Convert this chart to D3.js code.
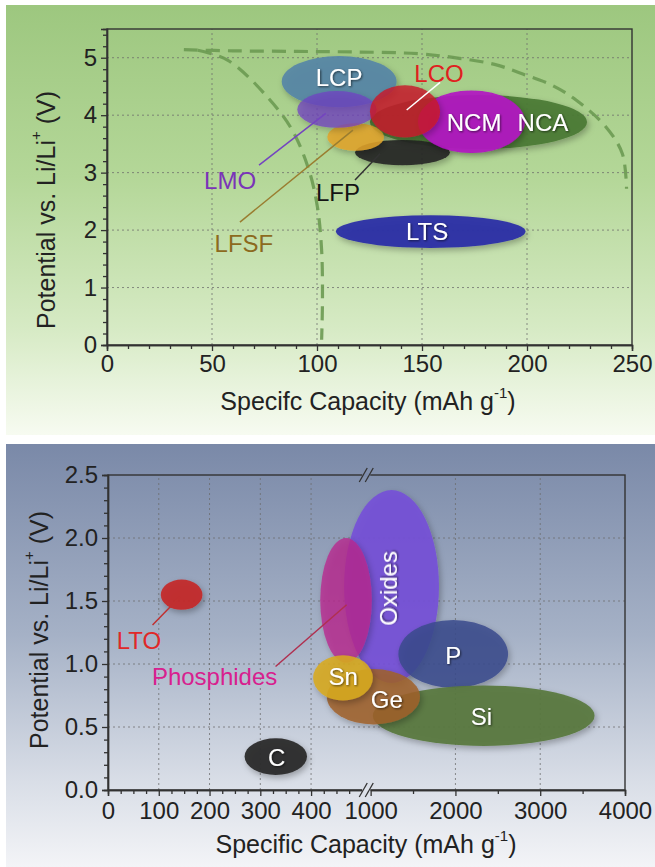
<!DOCTYPE html>
<html><head><meta charset="utf-8">
<script src="https://cdn.jsdelivr.net/npm/d3@7"></script>
<style>
body{margin:0;background:#fff}
svg{display:block}
text{font-family:"Liberation Sans",Arial,Helvetica,sans-serif}
</style>
</head><body>
<script>
// ---------------- DATA ----------------
// Top chart: cathode materials (extent of each region, data units)
const cathodeNames = ["NCA","LFP","LFSF","NCM","LCP","LMO","LCO","LTS"];
const cathodeXMin  = [125.2,118.1,104.9,148.1, 83.2, 90.6,125.2,109.0];
const cathodeXMax  = [228.6,163.3,131.9,199.0,137.9,128.4,158.6,199.3];
const cathodeYMin  = [3.41, 3.13, 3.38, 3.34, 4.14, 3.78, 3.61, 1.69];
const cathodeYMax  = [4.35, 3.57, 3.86, 4.43, 5.03, 4.42, 4.52, 2.26];

// Labels for top chart (data units)
const cathodeLabelNames = ["LCP","LCO","NCM","NCA","LTS","LMO","LFP","LFSF"];
const cathodeLabelX     = [110.5,158.1,174.8,207.6,152.4, 58.6,110.0, 65.2];
const cathodeLabelY     = [4.66, 4.73, 3.88, 3.88, 1.97, 2.87, 2.66, 1.76];
// Leader lines (from label to region)
const cathodeLeaderNames = ["LCO","LMO","LFP","LFSF"];
const cathodeLeaderX1 = [158.6, 72.4,118.1, 63.3];
const cathodeLeaderY1 = [4.57, 3.13, 2.87, 2.14];
const cathodeLeaderX2 = [142.7,104.2,130.0,117.1];
const cathodeLeaderY2 = [4.09, 4.03, 3.33, 3.74];

// Dashed guide curves (top chart)
const innerCurveX = [43.3, 57.4, 76.3, 88.2, 96.2, 100.2, 102.2, 102.6, 102.2];
const innerCurveY = [5.13, 4.96, 4.32, 3.74, 3.04, 2.40, 1.65, 0.78, 0.09];
const outerCurveX = [36.6, 60, 90, 118.2, 148, 167.8, 185, 197.7, 212, 223.5, 237.5, 245.4, 247.4];
const outerCurveY = [5.14, 5.12, 5.11, 5.10, 5.07, 4.99, 4.88, 4.72, 4.52, 4.26, 3.80, 3.33, 2.72];

// Top axes ticks
const topXTicks = [0, 50, 100, 150, 200, 250];
const topYTicks = [0, 1, 2, 3, 4, 5];

// Bottom chart: anode materials
const anodeNames = ["Oxides","Phosphides","P","Si","Ge","Sn","LTO","C"];
const anodeXMin  = [465, 418, 1327, 1026,  431,  404, 104, 269];
const anodeXMax  = [1806,1014,2621, 3641, 1582, 1026, 186, 392];
const anodeYMin  = [0.85, 1.01, 0.81, 0.35, 0.52, 0.71, 1.43, 0.12];
const anodeYMax  = [2.38, 2.00, 1.35, 0.83, 0.96, 1.07, 1.67, 0.41];

const anodeLabelNames = ["Oxides","P","Sn","Ge","Si","C","LTO","Phosphides"];
const anodeLabelX     = [1209, 1974, 463, 1191, 2308, 332, 61, 210];
const anodeLabelY     = [1.60, 1.07, 0.90, 0.72, 0.58, 0.254, 1.19, 0.90];
const anodeLeaderNames = ["LTO","Phosphides"];
const anodeLeaderX1 = [87.7, 330];
const anodeLeaderY1 = [1.31, 0.98];
const anodeLeaderX2 = [141, 470];
const anodeLeaderY2 = [1.53, 1.47];

// Bottom axes ticks
const botXTicks = [0, 100, 200, 300, 400, 1000, 2000, 3000, 4000];
const botYTicks = [0.0, 0.5, 1.0, 1.5, 2.0, 2.5];

// ---------------- STYLES ----------------
const regionStyle = {
  NCA:{fill:"#4b7a35",op:0.92}, LFP:{fill:"#232323",op:0.9}, LFSF:{fill:"#e3a52a",op:0.85},
  NCM:{fill:"#b214c2",op:0.92}, LCP:{fill:"#5786a6",op:0.92}, LMO:{fill:"#7040c4",op:0.72},
  LCO:{fill:"#c8182a",op:0.82}, LTS:{fill:"#2d2fa6",op:0.95},
  Oxides:{fill:"#7650d8",op:0.9}, Phosphides:{fill:"#b8288e",op:0.78}, P:{fill:"#3b4a8c",op:0.85},
  Si:{fill:"#58783e",op:0.92}, Ge:{fill:"#a0602a",op:0.85}, Sn:{fill:"#d8aa20",op:0.88},
  LTO:{fill:"#c42828",op:0.92}, C:{fill:"#2c2c2c",op:0.95}
};
const labelStyle = {
  LCP:"#ffffff", LCO:"#e02020", NCM:"#ffffff", NCA:"#ffffff", LTS:"#ffffff",
  LMO:"#7a34b8", LFP:"#141414", LFSF:"#8c6a1e",
  Oxides:"#ffffff", P:"#ffffff", Sn:"#ffffff", Ge:"#ffffff", Si:"#ffffff", C:"#ffffff",
  LTO:"#e02828", Phosphides:"#d8208e"
};
const leaderStyle = {LCO:"#ffffff", LMO:"#7444c0", LFP:"#333333", LFSF:"#9a7d30", LTO:"#c03030", Phosphides:"#b03050"};

// ---------------- DRAW ----------------
const W = 655, H = 867;
const svg = d3.select("body").append("svg").attr("width", W).attr("height", H);
const defs = svg.append("defs");

function vgrad(id, stops){
  const g = defs.append("linearGradient").attr("id", id).attr("x1",0).attr("y1",0).attr("x2",0).attr("y2",1);
  stops.forEach(s => g.append("stop").attr("offset", s[0]).attr("stop-color", s[1]));
}
vgrad("gTop", [[0,"#9dc77f"],[0.4,"#b4d798"],[0.75,"#d6eac4"],[1,"#f7fbf1"]]);
vgrad("gBot", [[0,"#7a89a8"],[0.45,"#a5b1c6"],[0.8,"#d9dee7"],[1,"#f3f4f7"]]);

const sh = defs.append("filter").attr("id","shadow").attr("x","-20%").attr("y","-30%").attr("width","150%").attr("height","170%");
sh.append("feDropShadow").attr("dx",2).attr("dy",3).attr("stdDeviation",3).attr("flood-color","#000").attr("flood-opacity",0.3);
const tsh = defs.append("filter").attr("id","tshadow").attr("x","-20%").attr("y","-30%").attr("width","150%").attr("height","170%");
tsh.append("feDropShadow").attr("dx",1).attr("dy",1).attr("stdDeviation",0.8).attr("flood-color","#000").attr("flood-opacity",0.6);

// panels
svg.append("rect").attr("x",6).attr("y",5).attr("width",W-6).attr("height",430).attr("fill","url(#gTop)");
svg.append("rect").attr("x",6).attr("y",444).attr("width",W-6).attr("height",H-444).attr("fill","url(#gBot)");

const FS = 24;   // tick labels
const TS = 25;   // axis titles
const LS = 24;   // annotation labels

function drawFrame(g, x0, x1, y0, y1){
  g.append("rect").attr("x",x0).attr("y",y1).attr("width",x1-x0).attr("height",y0-y1)
    .attr("fill","none").attr("stroke","#333").attr("stroke-width",1.4);
}
function gridV(g, xs, scale, y0, y1){
  g.selectAll(null).data(xs).enter().append("line")
    .attr("x1",d=>scale(d)).attr("x2",d=>scale(d)).attr("y1",y0).attr("y2",y1)
    .attr("stroke","#6a6a6a").attr("stroke-width",1).attr("stroke-dasharray","2,3").attr("opacity",0.75);
}
function gridH(g, ys, scale, x0, x1){
  g.selectAll(null).data(ys).enter().append("line")
    .attr("y1",d=>scale(d)).attr("y2",d=>scale(d)).attr("x1",x0).attr("x2",x1)
    .attr("stroke","#6a6a6a").attr("stroke-width",1).attr("stroke-dasharray","2,3").attr("opacity",0.75);
}
function styleAxis(a){
  a.select(".domain").attr("stroke","#333").attr("stroke-width",1.4);
  a.selectAll(".tick line").attr("stroke","#333").attr("stroke-width",1.3);
  a.selectAll("text").attr("font-size",FS).attr("fill","#222")
    .attr("font-family",'"Liberation Sans",Arial,sans-serif');
}
function ellipses(g, names, xmin, xmax, ymin, ymax, xs, ys){
  names.forEach((n,i)=>{
    const X1 = xs(xmin[i]), X2 = xs(xmax[i]), Y1 = ys(ymax[i]), Y2 = ys(ymin[i]);
    g.append("ellipse")
      .attr("cx",(X1+X2)/2).attr("cy",(Y1+Y2)/2)
      .attr("rx",Math.abs(X2-X1)/2).attr("ry",Math.abs(Y2-Y1)/2)
      .attr("fill",regionStyle[n].fill).attr("fill-opacity",regionStyle[n].op)
      .attr("filter","url(#shadow)");
  });
}
function leaders(g, names, x1, y1, x2, y2, xs, ys){
  names.forEach((n,i)=>{
    g.append("line").attr("x1",xs(x1[i])).attr("y1",ys(y1[i])).attr("x2",xs(x2[i])).attr("y2",ys(y2[i]))
      .attr("stroke",leaderStyle[n]).attr("stroke-width",1.5);
  });
}
function labels(g, names, lx, ly, xs, ys, rotated){
  names.forEach((n,i)=>{
    const c = labelStyle[n];
    const t = g.append("text").attr("x",xs(lx[i])).attr("y",ys(ly[i]))
      .attr("text-anchor","middle").attr("dominant-baseline","central")
      .attr("font-size",LS).attr("fill",c).text(n);
    if (c === "#ffffff") t.attr("filter","url(#tshadow)");
    if (rotated && rotated.includes(n)) t.attr("transform",`rotate(-90,${xs(lx[i])},${ys(ly[i])})`);
  });
}
function yTitle(x, y){
  const t = svg.append("text").attr("transform",`translate(${x},${y}) rotate(-90)`)
    .attr("text-anchor","middle").attr("dominant-baseline","central").attr("font-size",TS).attr("fill","#222");
  t.append("tspan").text("Potential vs. Li/Li");
  t.append("tspan").attr("font-size",15).attr("dy",-11).text("+");
  t.append("tspan").attr("dy",11).text(" (V)");
}
function xTitle(x, y, word){
  const t = svg.append("text").attr("x",x).attr("y",y).attr("text-anchor","middle")
    .attr("font-size",TS).attr("fill","#222");
  t.append("tspan").text(word + " Capacity (mAh g");
  t.append("tspan").attr("font-size",15).attr("dy",-12).text("-1");
  t.append("tspan").attr("dy",12).text(")");
}

// ===== TOP CHART =====
const tL = 107, tR = 632, tB = 345, tT = 29;
const xT = d3.scaleLinear().domain([0,250]).range([tL,tR]);
const yT = d3.scaleLinear().domain([0,5.5]).range([tB,tT]);
const gT = svg.append("g");
gridV(gT, [50,100,150,200], xT, tB, tT);
gridH(gT, [1,2,3,4,5], yT, tL, tR);

// dashed guide curves
const lineT = d3.line().x(d=>xT(d[0])).y(d=>yT(d[1])).curve(d3.curveCatmullRom.alpha(0.5));
[[innerCurveX, innerCurveY],[outerCurveX, outerCurveY]].forEach(([cx,cy])=>{
  gT.append("path").attr("d", lineT(cx.map((v,i)=>[v,cy[i]])))
    .attr("fill","none").attr("stroke","#6c9a52").attr("stroke-width",3.2)
    .attr("stroke-dasharray","14,8").attr("opacity",0.9);
});

ellipses(gT, cathodeNames, cathodeXMin, cathodeXMax, cathodeYMin, cathodeYMax, xT, yT);
leaders(gT, cathodeLeaderNames, cathodeLeaderX1, cathodeLeaderY1, cathodeLeaderX2, cathodeLeaderY2, xT, yT);
labels(gT, cathodeLabelNames, cathodeLabelX, cathodeLabelY, xT, yT);

// axes
const topXMinor = d3.range(0,251,10).filter(v=>!topXTicks.includes(v));
const topYMinor = d3.range(0,5.5,0.2).map(v=>+v.toFixed(1)).filter(v=>!topYTicks.includes(v));
gT.append("g").attr("transform",`translate(0,${tB})`).call(d3.axisBottom(xT).tickValues(topXMinor).tickSize(4).tickFormat("")).call(styleAxis);
gT.append("g").attr("transform",`translate(${tL},0)`).call(d3.axisLeft(yT).tickValues(topYMinor).tickSize(4).tickFormat("")).call(styleAxis);
gT.append("g").attr("transform",`translate(0,${tB})`).call(d3.axisBottom(xT).tickValues(topXTicks).tickSize(6).tickPadding(4).tickFormat(d3.format("d"))).call(styleAxis);
gT.append("g").attr("transform",`translate(${tL},0)`).call(d3.axisLeft(yT).tickValues(topYTicks).tickSize(6).tickPadding(4).tickFormat(d3.format("d"))).call(styleAxis);
drawFrame(gT, tL, tR, tB, tT);
yTitle(46, 210);
xTitle(368, 410, "Specifc");

// ===== BOTTOM CHART =====
const bL = 108, bR = 625, bB = 790, bT = 475;
const bW = bR - bL;
const xB = d3.scaleLinear().domain([0,500,1000,4000]).range([bL, bL + bW*0.491, bL + bW*0.508, bR]);
const yB = d3.scaleLinear().domain([0,2.5]).range([bB,bT]);
const gB = svg.append("g");
gridV(gB, [100,200,300,400,2000,3000], xB, bB, bT);
gridH(gB, [0.5,1.0,1.5,2.0], yB, bL, bR);

ellipses(gB, anodeNames, anodeXMin, anodeXMax, anodeYMin, anodeYMax, xB, yB);
leaders(gB, anodeLeaderNames, anodeLeaderX1, anodeLeaderY1, anodeLeaderX2, anodeLeaderY2, xB, yB);
labels(gB, anodeLabelNames, anodeLabelX, anodeLabelY, xB, yB, ["Oxides"]);

const botXMinor = d3.range(25,500,25).filter(v=>!botXTicks.includes(v)).concat([1500,2500,3500]);
const botYMinor = d3.range(0,2.5,0.1).map(v=>+v.toFixed(1)).filter(v=>!botYTicks.includes(v));
gB.append("g").attr("transform",`translate(0,${bB})`).call(d3.axisBottom(xB).tickValues(botXMinor).tickSize(4).tickFormat("")).call(styleAxis);
gB.append("g").attr("transform",`translate(${bL},0)`).call(d3.axisLeft(yB).tickValues(botYMinor).tickSize(4).tickFormat("")).call(styleAxis);
gB.append("g").attr("transform",`translate(0,${bB})`).call(d3.axisBottom(xB).tickValues(botXTicks).tickSize(6).tickPadding(6).tickFormat(d3.format("d"))).call(styleAxis);
gB.append("g").attr("transform",`translate(${bL},0)`).call(d3.axisLeft(yB).tickValues(botYTicks).tickSize(6).tickPadding(4).tickFormat(d3.format(".1f"))).call(styleAxis);
drawFrame(gB, bL, bR, bB, bT);

// axis break marks
const xBreak = xB(750);
[bB, bT].forEach(yy=>{
  gB.append("rect").attr("x",xBreak-4).attr("y",yy-2).attr("width",8).attr("height",4).attr("fill",yy===bB?"#dfe3ea":"#7d8cab");
  [-3,3].forEach(o=>{
    gB.append("line").attr("x1",xBreak+o-4).attr("y1",yy+7).attr("x2",xBreak+o+4).attr("y2",yy-7)
      .attr("stroke","#333").attr("stroke-width",1.3);
  });
});
yTitle(39, 630);
xTitle(366, 853, "Specific");
</script>
</body></html>
